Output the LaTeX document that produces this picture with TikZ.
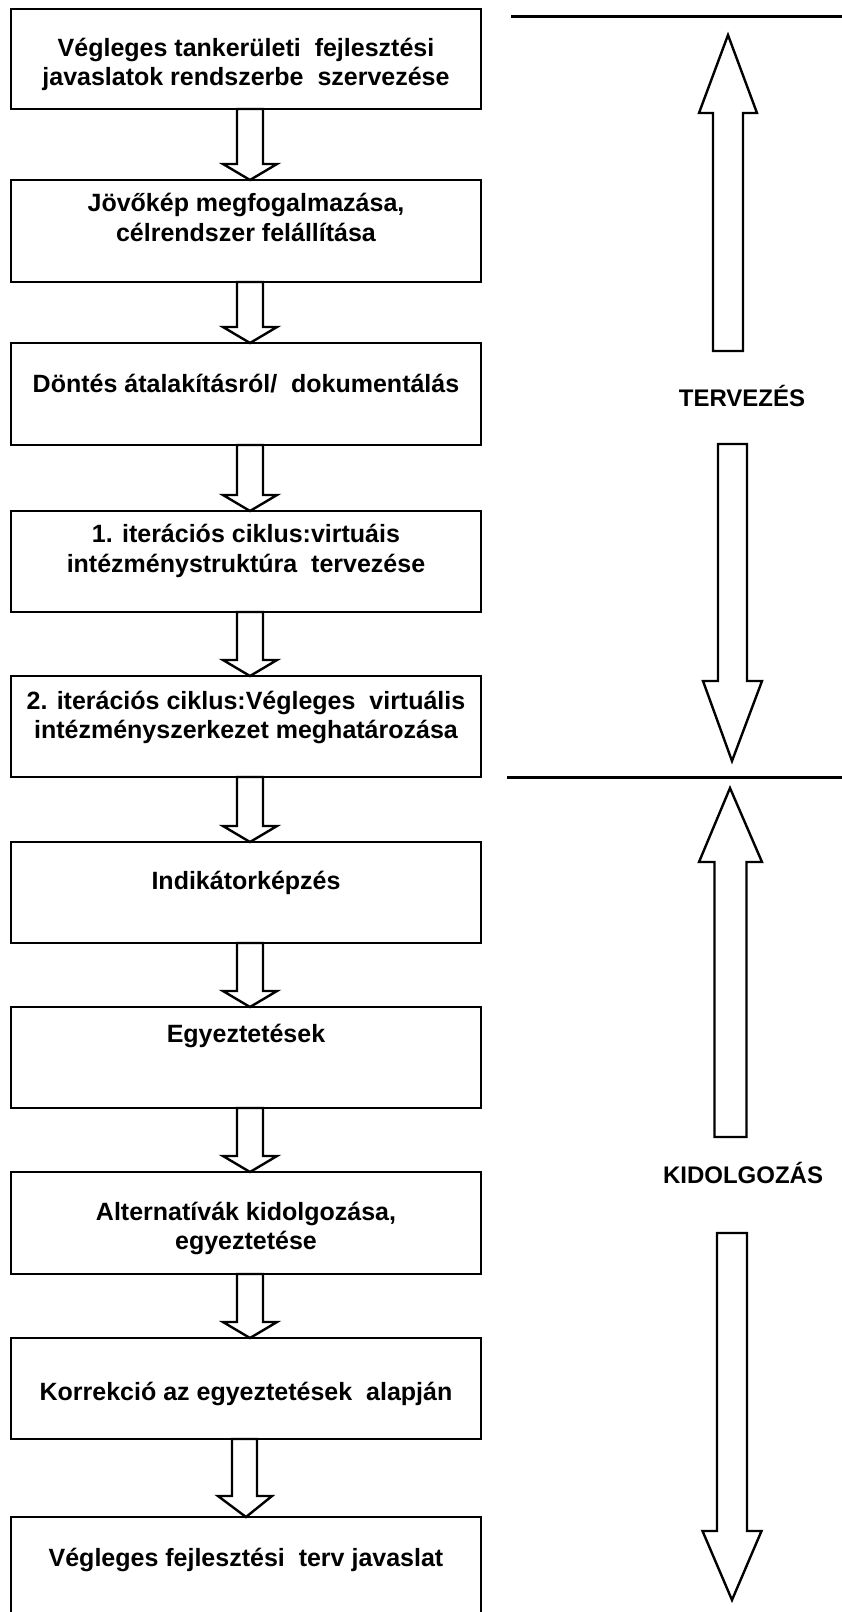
\documentclass[tikz,border=0pt]{standalone}
\usepackage{fontspec}
\setmainfont{Liberation Sans}
\begin{document}
\begin{tikzpicture}[x=1pt,y=-1pt,
  box/.style={draw=black, line width=2.6pt, rectangle, minimum width=470pt, inner sep=0pt, outer sep=0pt, fill=white},
  txt/.style={font=\fontsize{25}{29}\selectfont\bfseries, inner sep=0pt, anchor=base},
  lab/.style={font=\fontsize{24}{29}\selectfont\bfseries, inner sep=0pt, anchor=base},
  blk/.style={draw=black, line width=2.4pt, fill=white, line join=miter},
  hline/.style={draw=black, line width=3pt}]
\useasboundingbox (0,0) rectangle (842,1612);
\clip (0,0) rectangle (842,1612);
\newcommand\flowarrow[2]{%
  \draw[blk] ([xshift=-9pt]#1.south) -- ([xshift=-9pt,yshift=16pt]#2.north)
    -- ([xshift=-23pt,yshift=16pt]#2.north) -- ([xshift=4pt]#2.north)
    -- ([xshift=31pt,yshift=16pt]#2.north) -- ([xshift=17pt,yshift=16pt]#2.north)
    -- ([xshift=17pt]#1.south) -- cycle;}
\newcommand\sidearrow[7]{% cx, tail y, base y, tip y, head half, shaft half, tip x
  \draw[blk] ({#1-#6},#2) -- ({#1-#6},#3) -- ({#1-#5},#3) -- (#7,#4)
    -- ({#1+#5},#3) -- ({#1+#6},#3) -- ({#1+#6},#2) -- cycle;}
% boxes
\node[box, minimum height=100pt] (b1) at (246,59) {};
\node[box, minimum height=102pt] (b2) at (246,231) {};
\node[box, minimum height=102pt] (b3) at (246,394) {};
\node[box, minimum height=101pt] (b4) at (246,561.5) {};
\node[box, minimum height=101pt] (b5) at (246,726.5) {};
\node[box, minimum height=101pt] (b6) at (246,892.5) {};
\node[box, minimum height=101pt] (b7) at (246,1057.5) {};
\node[box, minimum height=102pt] (b8) at (246,1223) {};
\node[box, minimum height=101pt] (b9) at (246,1388.5) {};
\node[box, minimum height=123pt] (b10) at (246,1578.5) {};
% texts
\node[txt] (t1a) at (246,56) {Végleges tankerületi\ \ fejlesztési};
\node[txt] (t1b) at (246,85) {javaslatok rendszerbe\ \ szervezése};
\node[txt] (t2a) at (246,211) {Jövőkép megfogalmazása,};
\node[txt] (t2b) at (246,241) {célrendszer felállítása};
\node[txt] (t3a) at (246,392) {Döntés átalakításról/\ \ dokumentálás};
\node[txt] (t4a) at (246,542) {1. iterációs ciklus:virtuáis};
\node[txt] (t4b) at (246,572) {intézménystruktúra\ \ tervezése};
\node[txt] (t5a) at (246,709) {2. iterációs ciklus:Végleges\ \ virtuális};
\node[txt] (t5b) at (246,738) {intézményszerkezet meghatározása};
\node[txt] (t6a) at (246,889) {Indikátorképzés};
\node[txt] (t7a) at (246,1042) {Egyeztetések};
\node[txt] (t8a) at (246,1220) {Alternatívák kidolgozása,};
\node[txt] (t8b) at (246,1249) {egyeztetése};
\node[txt] (t9a) at (246,1400) {Korrekció az egyeztetések\ \ alapján};
\node[txt] (t10a) at (246,1566) {Végleges fejlesztési\ \ terv javaslat};
% flow arrows
\flowarrow{b1}{b2}
\flowarrow{b2}{b3}
\flowarrow{b3}{b4}
\flowarrow{b4}{b5}
\flowarrow{b5}{b6}
\flowarrow{b6}{b7}
\flowarrow{b7}{b8}
\flowarrow{b8}{b9}
\draw[blk] ([xshift=-14pt]b9.south) -- ([xshift=-14pt,yshift=21pt]b10.north)
  -- ([xshift=-28pt,yshift=21pt]b10.north) -- (b10.north)
  -- ([xshift=26pt,yshift=21pt]b10.north) -- ([xshift=11pt,yshift=21pt]b10.north)
  -- ([xshift=11pt]b9.south) -- cycle;
% right side
\coordinate (l1a) at (511,16);
\coordinate (l1b) at (842,16);
\coordinate (l2a) at (507,777);
\coordinate (l2b) at (842,777);
\draw[hline] (l1a) -- (l1b);
\draw[hline] (l2a) -- (l2b);
\sidearrow{728}{351}{113}{35}{29}{15}{728}
\sidearrow{732.5}{444}{681}{761}{29.5}{14.5}{732}
\sidearrow{730.5}{1137}{862}{788}{31.5}{16}{730}
\sidearrow{732}{1233}{1531}{1600}{29.5}{15}{732}
\node[lab] (tervezes) at (742,406) {TERVEZÉS};
\node[lab] (kidolgozas) at (743,1183) {KIDOLGOZÁS};
\end{tikzpicture}
\end{document}
